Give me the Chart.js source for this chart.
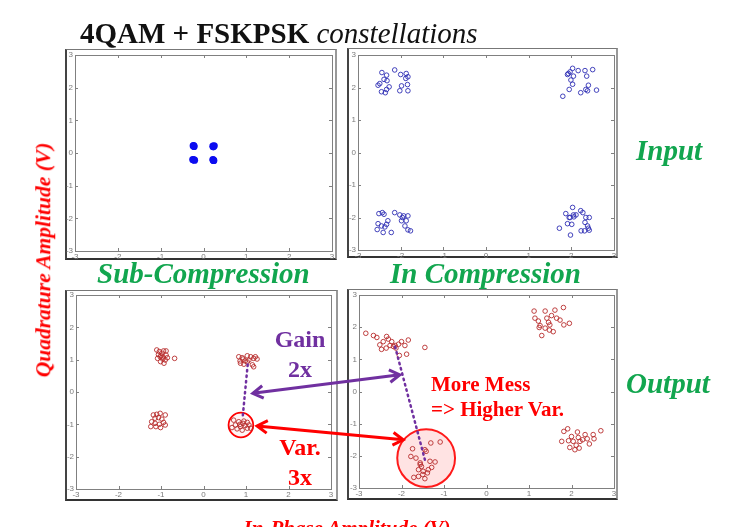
<!DOCTYPE html>
<html>
<head>
<meta charset="utf-8">
<script src="https://cdn.jsdelivr.net/npm/chart.js@4/dist/chart.umd.min.js"></script>
<style>
  html, body { margin: 0; padding: 0; background: #fff; }
  body { position: relative; width: 747px; height: 527px; overflow: hidden; }
  canvas { position: absolute; left: 0; top: 0; }
  .frame { position: absolute; box-sizing: border-box;
           border-top: 1px solid #777; border-right: 2px solid #999;
           border-bottom: 2px solid #333; border-left: 2px solid #444; }
  .txt { position: absolute; white-space: nowrap; line-height: 1; z-index: 5;
         font-family: "Liberation Serif", "Times New Roman", serif; }
  .green { color: #12a64f; font-weight: bold; font-style: italic; font-size: 29px; }
  .red { color: #ff0000; font-weight: bold; }
  .purple { color: #7030a0; font-weight: bold; }
  .ctr { transform: translateX(-50%); }
</style>
</head>
<body>
<div class="frame" style="left:65px;top:49px;width:272px;height:211px"></div>
<div class="frame" style="left:347px;top:48px;width:271px;height:210px"></div>
<div class="frame" style="left:65px;top:290px;width:273px;height:211px"></div>
<div class="frame" style="left:347px;top:289px;width:271px;height:211px"></div>

<canvas id="c1" width="747" height="527"></canvas>
<canvas id="c2" width="747" height="527"></canvas>
<canvas id="c3" width="747" height="527"></canvas>
<canvas id="c4" width="747" height="527"></canvas>

<div class="txt" style="left:80px;top:18.7px;font-size:29px;color:#111">
  <span style="font-weight:bold">4QAM + FSKPSK</span> <span style="font-style:italic">constellations</span>
</div>
<div class="txt green" style="left:636px;top:136px">Input</div>
<div class="txt green" style="left:626px;top:369px">Output</div>
<div class="txt green" style="left:97px;top:259px">Sub-Compression</div>
<div class="txt green" style="left:390px;top:259px">In Compression</div>

<div class="txt purple ctr" style="left:300px;top:327px;font-size:24px">Gain</div>
<div class="txt purple ctr" style="left:300px;top:357px;font-size:24px">2x</div>
<div class="txt red ctr" style="left:300px;top:435px;font-size:24px">Var.</div>
<div class="txt red ctr" style="left:300px;top:465px;font-size:24px">3x</div>
<div class="txt red" style="left:431px;top:374.4px;font-size:21px">More Mess</div>
<div class="txt red" style="left:431px;top:399.4px;font-size:21px">=&gt; Higher Var.</div>

<div class="txt red" style="left:44px;top:260px;font-size:21.5px;font-style:italic;transform:translate(-50%,-50%) rotate(-90deg)">Quadrature Amplitude (V)</div>
<div class="txt red ctr" style="left:347px;top:517.5px;font-size:21px;font-style:italic">In-Phase Amplitude (V)</div>

<script>
// Shared axis ticks for every constellation panel
const axisTicks = [-3, -2, -1, 0, 1, 2, 3];

// Ideal 4QAM symbols before the amplifier (sub-compression input)
const idealPoints = [
  [-0.24, 0.22], [-0.22, 0.20], [-0.23, 0.23],
  [0.22, 0.21], [0.25, 0.22], [0.23, 0.19],
  [-0.23, -0.21], [-0.21, -0.22], [-0.25, -0.20],
  [0.23, -0.22], [0.22, -0.20], [0.24, -0.23]
];

// Noisy input driven into compression
const compInputPoints = [
  [-2.44, 2.46], [-2.33, 2.38], [-2.39, 2.25], [-2.32, 2.21], [-2.49, 2.12], [-2.53, 2.07],
  [-2.27, 2.02], [-2.33, 1.94], [-2.45, 1.87], [-2.36, 1.84], [-2.14, 2.54], [-2.00, 2.40],
  [-1.87, 2.43], [-1.83, 2.33], [-1.88, 2.28], [-1.98, 2.05], [-2.02, 1.90], [-1.83, 1.90],
  [-1.84, 2.09],
  [1.93, 2.43], [1.97, 2.48], [2.03, 2.59], [2.16, 2.52], [2.32, 2.52], [2.50, 2.55],
  [2.05, 2.35], [1.99, 2.23], [2.03, 2.10], [1.95, 1.94], [1.80, 1.73], [2.22, 1.84],
  [2.34, 1.94], [2.40, 2.07], [2.38, 1.90], [2.59, 1.92], [2.36, 2.35], [1.91, 2.40],
  [-2.51, -1.88], [-2.43, -1.85], [-2.39, -1.90], [-2.53, -2.19], [-2.45, -2.26], [-2.37, -2.29],
  [-2.33, -2.21], [-2.30, -2.10], [-2.41, -2.46], [-2.22, -2.46], [-2.55, -2.37], [-2.14, -1.85],
  [-2.02, -1.92], [-1.96, -2.00], [-1.93, -1.95], [-1.83, -1.95], [-1.87, -2.10], [-1.90, -2.26],
  [-1.83, -2.38], [-1.77, -2.41], [-1.98, -2.10],
  [2.03, -1.69], [1.87, -1.88], [1.95, -2.00], [2.05, -1.92], [2.11, -1.92], [1.91, -2.19],
  [2.01, -2.21], [1.98, -2.54], [2.22, -1.79], [2.27, -1.85], [2.34, -2.00], [2.32, -2.15],
  [2.38, -2.26], [2.40, -2.33], [2.31, -2.41], [2.23, -2.41], [2.42, -2.39], [2.42, -2.00],
  [1.72, -2.33], [1.97, -2.00], [2.06, -1.98]
];

// Amplifier output, linear region
const subOutputPoints = [
  [-1.10, 1.30], [-1.04, 1.25], [-0.98, 1.20], [-0.94, 1.27], [-0.88, 1.14], [-1.02, 1.09],
  [-1.08, 1.04], [-0.96, 1.02], [-0.90, 0.99], [-0.85, 1.06], [-0.68, 1.04], [-1.01, 0.94],
  [-0.93, 0.89], [-1.06, 1.16], [-0.88, 1.27], [-0.95, 1.08], [-1.00, 1.12],
  [0.83, 1.09], [0.91, 1.06], [1.03, 1.12], [1.11, 1.09], [1.18, 1.04], [1.26, 1.02],
  [0.87, 0.89], [0.95, 0.86], [1.03, 0.93], [1.15, 0.84], [1.18, 0.78], [1.07, 0.99],
  [0.98, 0.96], [0.93, 1.02], [1.22, 1.09], [0.86, 0.96],
  [-1.18, -0.71], [-1.10, -0.69], [-1.02, -0.66], [-0.90, -0.71], [-1.14, -0.81], [-1.06, -0.79],
  [-0.98, -0.84], [-1.22, -0.92], [-1.14, -0.97], [-1.04, -1.00], [-0.94, -0.94], [-1.24, -1.07],
  [-1.12, -1.07], [-1.01, -1.10], [-0.90, -1.02],
  [0.71, -0.87], [0.83, -0.92], [0.95, -0.90], [1.03, -0.94], [0.75, -1.02], [0.87, -1.07],
  [0.98, -1.04], [1.07, -1.02], [0.79, -1.14], [0.91, -1.18], [1.03, -1.12], [0.67, -1.10],
  [0.93, -0.97], [1.11, -1.12], [0.86, -1.00]
];

// Amplifier output, in compression
const compOutputPoints = [
  [-2.84, 1.81], [-2.66, 1.74], [-2.58, 1.68], [-2.51, 1.45], [-2.47, 1.31], [-2.35, 1.71],
  [-2.31, 1.63], [-2.23, 1.55], [-2.19, 1.40], [-2.13, 1.35], [-2.07, 1.47], [-2.00, 1.55],
  [-1.92, 1.43], [-1.84, 1.60], [-2.05, 1.12], [-1.88, 1.16], [-1.45, 1.37], [-2.27, 1.43],
  [-2.15, 1.43], [-2.36, 1.35], [-2.43, 1.55],
  [1.12, 2.50], [1.14, 2.28], [1.22, 2.19], [1.26, 2.05], [1.30, 1.74], [1.38, 2.50],
  [1.42, 2.28], [1.46, 2.15], [1.49, 2.07], [1.57, 1.86], [1.53, 2.36], [1.61, 2.53],
  [1.65, 2.28], [1.73, 2.22], [1.81, 2.61], [1.82, 2.07], [1.95, 2.12], [1.24, 1.99],
  [1.38, 1.97], [1.48, 1.91],
  [1.82, -1.24], [1.91, -1.16], [1.77, -1.55], [1.93, -1.53], [1.96, -1.74], [2.04, -1.55],
  [2.14, -1.26], [2.16, -1.43], [2.20, -1.55], [2.18, -1.76], [2.08, -1.81], [2.32, -1.34],
  [2.37, -1.47], [2.42, -1.63], [2.51, -1.34], [2.53, -1.47], [2.69, -1.22], [2.00, -1.40],
  [2.26, -1.50], [2.11, -1.67],
  [-1.74, -1.78], [-1.78, -2.02], [-1.66, -2.07], [-1.45, -1.81], [-1.42, -1.86], [-1.09, -1.57],
  [-1.31, -1.60], [-1.56, -2.22], [-1.53, -2.33], [-1.60, -2.43], [-1.49, -2.48], [-1.37, -2.43],
  [-1.29, -2.36], [-1.33, -2.17], [-1.21, -2.19], [-1.71, -2.67], [-1.60, -2.64], [-1.50, -2.58],
  [-1.45, -2.71], [-1.39, -2.53], [-1.56, -2.27]
];

const toXY = pts => pts.map(([x, y]) => ({ x, y }));

// MATLAB-style axes box with inward ticks and tick labels, plus per-panel rings and dotted guides
const panelDecor = {
  id: 'panelDecor',
  beforeDatasetsDraw(chart, args, opts) {
    const { ctx, chartArea: a, scales: { x, y } } = chart;
    ctx.save();
    ctx.strokeStyle = '#808080';
    ctx.lineWidth = 1;
    ctx.strokeRect(Math.round(a.left) + 0.5, Math.round(a.top) + 0.5,
                   Math.round(a.width), Math.round(a.height));
    ctx.beginPath();
    axisTicks.forEach(v => {
      const px = Math.round(x.getPixelForValue(v)) + 0.5;
      ctx.moveTo(px, a.bottom); ctx.lineTo(px, a.bottom - 3);
      ctx.moveTo(px, a.top); ctx.lineTo(px, a.top + 3);
      const py = Math.round(y.getPixelForValue(v)) + 0.5;
      ctx.moveTo(a.left, py); ctx.lineTo(a.left + 3, py);
      ctx.moveTo(a.right, py); ctx.lineTo(a.right - 3, py);
    });
    ctx.stroke();

    ctx.fillStyle = '#7a7a7a';
    ctx.font = '8px "Liberation Sans", Arial, sans-serif';
    ctx.textAlign = 'right';
    ctx.textBaseline = 'middle';
    axisTicks.forEach(v => ctx.fillText(String(v), a.left - 2, y.getPixelForValue(v)));
    ctx.textAlign = 'center';
    ctx.textBaseline = 'top';
    axisTicks.forEach(v => ctx.fillText(String(v), x.getPixelForValue(v), a.bottom + 2));

    (opts.rings || []).forEach(r => {
      const cx = x.getPixelForValue(r.x), cy = y.getPixelForValue(r.y);
      const rad = Math.abs(x.getPixelForValue(r.x + r.r) - cx);
      ctx.beginPath();
      ctx.arc(cx, cy, rad, 0, Math.PI * 2);
      ctx.fillStyle = r.fill;
      ctx.fill();
      ctx.lineWidth = r.width;
      ctx.strokeStyle = r.color;
      ctx.stroke();
    });
    ctx.restore();
  },
  afterDatasetsDraw(chart, args, opts) {
    const { ctx, scales: { x, y } } = chart;
    ctx.save();
    (opts.guides || []).forEach(g => {
      ctx.beginPath();
      ctx.setLineDash([1.5, 4]);
      ctx.lineCap = 'round';
      ctx.lineWidth = 2.5;
      ctx.strokeStyle = g.color;
      ctx.moveTo(x.getPixelForValue(g.from[0]), y.getPixelForValue(g.from[1]));
      ctx.lineTo(x.getPixelForValue(g.to[0]), y.getPixelForValue(g.to[1]));
      ctx.stroke();
    });
    ctx.restore();
  }
};

function panel(canvasId, area, points, style, decor) {
  const axis = {
    type: 'linear', min: -3, max: 3,
    grid: { display: false }, border: { display: false },
    ticks: { display: false }
  };
  return new Chart(document.getElementById(canvasId), {
    type: 'scatter',
    data: { datasets: [Object.assign({ data: toXY(points) }, style)] },
    plugins: [panelDecor],
    options: {
      responsive: false,
      animation: false,
      events: [],
      layout: { padding: { left: area.l, top: area.t, right: 747 - area.r, bottom: 527 - area.b } },
      plugins: { legend: { display: false }, tooltip: { enabled: false }, panelDecor: decor || {} },
      scales: {
        x: Object.assign({}, axis, { afterFit: s => { s.height = 0; } }),
        y: Object.assign({}, axis, { afterFit: s => { s.width = 0; } })
      }
    }
  });
}

const openBlue = { pointStyle: 'circle', pointRadius: 2.3, borderWidth: 0.9,
                   borderColor: '#2f2fb4', backgroundColor: 'rgba(0,0,0,0)' };
const openRed = { pointStyle: 'circle', pointRadius: 2.3, borderWidth: 0.9,
                  borderColor: '#b82c2c', backgroundColor: 'rgba(0,0,0,0)' };

const idealChart = panel('c1', { l: 75, t: 55, r: 332, b: 251 }, idealPoints,
  { pointStyle: 'circle', pointRadius: 3.6, borderWidth: 0, backgroundColor: '#0c0cf0' });

const compInChart = panel('c2', { l: 358, t: 55, r: 614, b: 250 }, compInputPoints, openBlue);

const subChart = panel('c3', { l: 76, t: 295, r: 331, b: 489 }, subOutputPoints, openRed, {
  rings: [{ x: 0.88, y: -1.02, r: 0.29, color: '#ff0000', width: 1.8, fill: 'rgba(255,0,0,0.04)' }],
  guides: [{ from: [1.04, 0.85], to: [0.92, -0.80], color: '#7030a0' }]
});

// Double-headed arrows linking the sub-compression and in-compression outputs
const linkArrows = [
  { from: [1.16, -0.04], to: [-2.04, 0.52], color: '#7030a0' },
  { from: [1.26, -1.05], to: [-1.96, -1.50], color: '#ff0000' }
];

const arrowLinks = {
  id: 'arrowLinks',
  afterDraw(chart) {
    const { ctx } = chart;
    const sx = subChart.scales.x, sy = subChart.scales.y;
    const cx = chart.scales.x, cy = chart.scales.y;
    const head = (x0, y0, ang) => {
      const L = 12, w = 0.55;
      ctx.moveTo(x0 + L * Math.cos(ang + w), y0 + L * Math.sin(ang + w));
      ctx.lineTo(x0, y0);
      ctx.lineTo(x0 + L * Math.cos(ang - w), y0 + L * Math.sin(ang - w));
    };
    ctx.save();
    ctx.lineWidth = 3;
    linkArrows.forEach(a => {
      const x1 = sx.getPixelForValue(a.from[0]), y1 = sy.getPixelForValue(a.from[1]);
      const x2 = cx.getPixelForValue(a.to[0]), y2 = cy.getPixelForValue(a.to[1]);
      const ang = Math.atan2(y2 - y1, x2 - x1);
      ctx.strokeStyle = a.color;
      ctx.beginPath();
      ctx.moveTo(x1, y1); ctx.lineTo(x2, y2);
      head(x1, y1, ang);
      head(x2, y2, ang + Math.PI);
      ctx.stroke();
    });
    ctx.restore();
  }
};

const compOutChart = panel('c4', { l: 359, t: 295, r: 614, b: 488 }, compOutputPoints, openRed, {
  rings: [{ x: -1.42, y: -2.07, r: 0.68, color: '#ff1a1a', width: 2, fill: 'rgba(255,60,60,0.14)' }],
  guides: [{ from: [-2.15, 1.39], to: [-1.45, -2.12], color: '#7030a0' }]
});
Chart.register(arrowLinks);
compOutChart.update();
</script>
</body>
</html>
